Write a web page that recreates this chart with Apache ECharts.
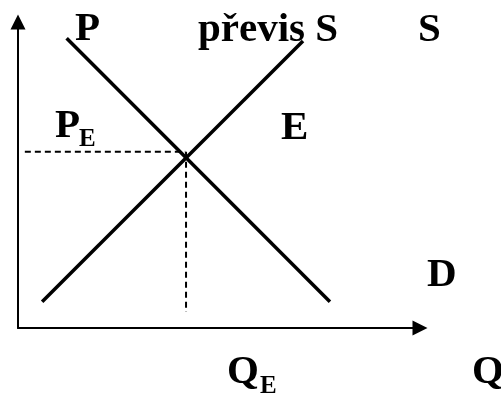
<!DOCTYPE html>
<html>
<head>
<meta charset="utf-8">
<script src="https://cdn.jsdelivr.net/npm/echarts@6/dist/echarts.min.js"></script>
<style>
  html, body { margin: 0; padding: 0; background: #fff; }
  #chart { width: 501px; height: 394px; }
</style>
</head>
<body>
<div id="chart"></div>
<script>
// osa Q a P vedou od 0 do 100
const demandX = [12.1, 77.6];
const demandY = [94.7, 8.6];
const supplyX = [6.0, 70.9];
const supplyY = [8.6, 93.8];
// rovnovazna cena a mnozstvi (carkovane)
const priceLineX = [1.7, 41.6];
const priceLineY = [57.6, 57.6];
const qtyLineX = [41.8, 41.8];
const qtyLineY = [57.6, 5.2];

const zip = (xs, ys) => xs.map((x, i) => [x, ys[i]]);

function label(text, x, baseline, size) {
    // middle baseline sits about a third of the size above the alphabetic one
    return {
        type: 'text',
        x: x,
        y: baseline - size * 0.3375 + 1,
        style: {
            text: text, font: 'bold ' + size + 'px "Liberation Serif"',
            fill: '#000', align: 'left', verticalAlign: 'middle'
        }
    };
}

const chart = echarts.init(document.getElementById('chart'));
chart.setOption({
    animation: false,
    grid: { left: 18, right: 81, top: 22, bottom: 66 },
    xAxis: {
        type: 'value', min: 0, max: 100,
        axisLine: {
            show: true, onZero: false,
            symbol: ['none', 'triangle'], symbolSize: [15, 15],
            lineStyle: { color: '#000', width: 2 }
        },
        axisTick: { show: false }, axisLabel: { show: false }, splitLine: { show: false }
    },
    yAxis: {
        type: 'value', min: 0, max: 100,
        axisLine: {
            show: true, onZero: false,
            symbol: ['none', 'triangle'], symbolSize: [15, 15],
            lineStyle: { color: '#000', width: 2 }
        },
        axisTick: { show: false }, axisLabel: { show: false }, splitLine: { show: false }
    },
    series: [
        {
            name: 'D', type: 'line', data: zip(demandX, demandY), symbol: 'none', silent: true,
            lineStyle: { color: '#000', width: 3.5 }
        },
        {
            name: 'S', type: 'line', data: zip(supplyX, supplyY), symbol: 'none', silent: true,
            lineStyle: { color: '#000', width: 3.5 }
        },
        {
            name: 'PE', type: 'line', data: zip(priceLineX, priceLineY), symbol: 'none', silent: true,
            lineStyle: { color: '#000', width: 2, type: [6, 4] }
        },
        {
            name: 'QE', type: 'line', data: zip(qtyLineX, qtyLineY), symbol: 'none', silent: true,
            lineStyle: { color: '#000', width: 2, type: [6, 4] }
        }
    ],
    graphic: [
        label('P', 75, 42, 41),
        label('převis S', 198, 43, 41),
        label('S', 418, 43, 41),
        label('E', 281, 141, 41),
        label('P', 55, 139, 41),
        label('E', 79, 147, 25),
        label('D', 427, 288, 41),
        label('Q', 227, 385, 41),
        label('E', 260, 394, 25),
        label('Q', 472, 385, 41)
    ]
});
</script>
</body>
</html>
